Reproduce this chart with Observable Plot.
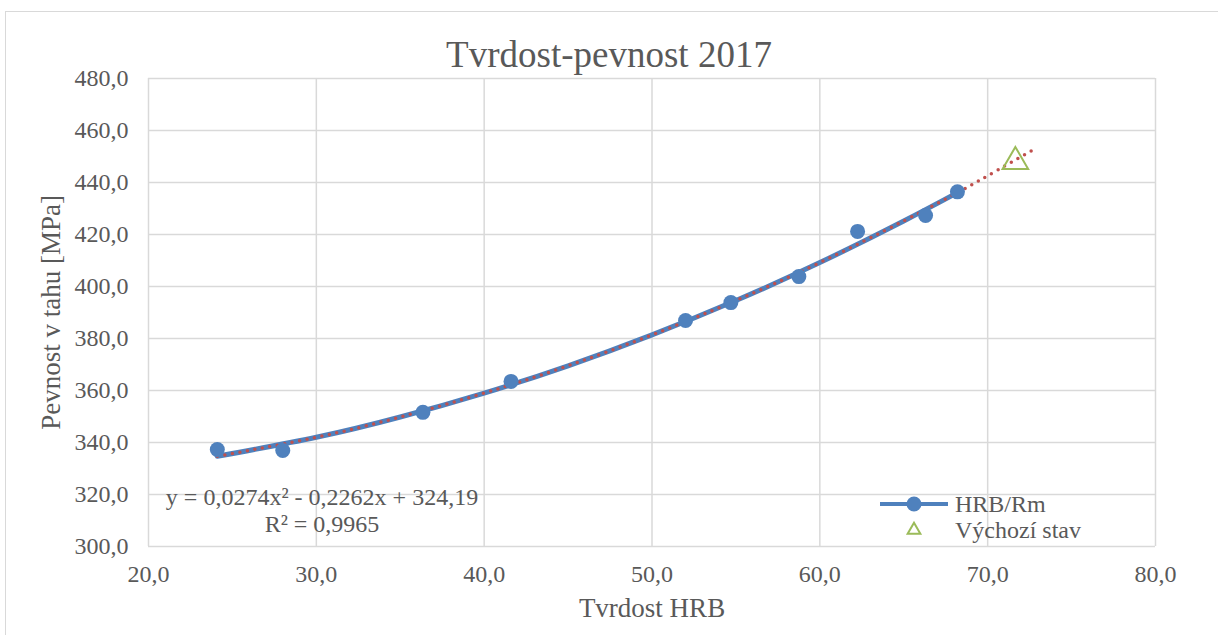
<!DOCTYPE html>
<html>
<head>
<meta charset="utf-8">
<script src="https://cdn.jsdelivr.net/npm/d3@7"></script>
<script src="https://cdn.jsdelivr.net/npm/@observablehq/plot@0.6"></script>
<style>
  html, body { margin: 0; padding: 0; background: #fff; }
  #wrap { position: relative; width: 1218px; height: 635px; overflow: hidden; font-family: "Liberation Serif", "Times New Roman", serif; color: #595959; }
  #border { position: absolute; left: 5px; top: 11px; width: 1300px; height: 700px; border: 1.5px solid #d9d9d9; box-sizing: border-box; }
  #title { position: absolute; left: 0; width: 1218px; top: 36px; line-height: 1; text-align: center; font-size: 37px; color: #595959; }
  #chart { position: absolute; left: 0; top: 0; }
  .eq { position: absolute; font-size: 24px; line-height: 1; color: #595959; white-space: nowrap; transform: translateX(-50%); }
  #legend { position: absolute; left: 876px; top: 490px; }
</style>
</head>
<body>
<div id="wrap">
  <div id="border"></div>
  <div id="chart"></div>
  <div id="title">Tvrdost-pevnost 2017</div>
  <div class="eq" style="left:322px; top:485px;">y = 0,0274x² - 0,2262x + 324,19</div>
  <div class="eq" style="left:322px; top:512px;">R² = 0,9965</div>
  <div id="legend"></div>
</div>
<script>
// Measured points: hardness HRB vs tensile strength Rm [MPa]
const hrb = [24.1, 28.0, 36.35, 41.6, 52.0, 54.7, 58.75, 62.25, 66.3, 68.2];
const rm  = [337.3, 336.9, 351.6, 363.5, 386.9, 393.8, 403.8, 421.2, 427.3, 436.4];

// Initial state (Výchozí stav)
const startHrb = [71.65];
const startRm  = [448.0];

// Trendline
const trendX = [24.1, 30, 35, 40, 45, 50, 55, 60, 65, 68.2, 70, 72.9];
const trendY = [334.7, 342.0, 349.8, 359.0, 369.5, 381.4, 394.6, 409.2, 425.2, 436.1, 442.6, 453.3];

const xTicks = [20, 30, 40, 50, 60, 70, 80];
const yTicks = [300, 320, 340, 360, 380, 400, 420, 440, 460, 480];

const xLabel = "Tvrdost HRB";
const yLabel = "Pevnost v tahu [MPa]";
const seriesNames = ["HRB/Rm", "Výchozí stav"];

const pts = hrb.map((x, i) => ({x, y: rm[i]}));
const start = startHrb.map((x, i) => ({x, y: startRm[i]}));
const trend = trendX.map((x, i) => ({x, y: trendY[i]}));
const lineTrend = trend.filter(d => d.x <= hrb[hrb.length - 1] + 0.01);

const fmt = d => d.toFixed(1).replace(".", ",");
const grid = "#d9d9d9";
const blue = "#4f81bd";
const red = "#c0504d";
const green = "#9bbb59";
const serif = "Liberation Serif";

const chart = Plot.plot({
  width: 1218,
  height: 635,
  marginLeft: 148,
  marginRight: 63,
  marginTop: 78,
  marginBottom: 89,
  style: { fontFamily: serif, color: "#595959", background: "transparent" },
  x: { domain: [20, 80] },
  y: { domain: [300, 480] },
  marks: [
    Plot.gridX(xTicks, { stroke: grid, strokeOpacity: 1, strokeWidth: 1.5 }),
    Plot.gridY(yTicks, { stroke: grid, strokeOpacity: 1, strokeWidth: 1.5 }),
    Plot.axisX(xTicks, { tickSize: 0, tickPadding: 18, tickFormat: fmt, fontSize: 24, fontFamily: serif, fill: "#595959",
      label: null }),
    Plot.axisY(yTicks, { tickSize: 0, tickPadding: 20, tickFormat: fmt, fontSize: 24, fontFamily: serif, fill: "#595959",
      label: null }),
    Plot.axisX({ ticks: [], tickSize: 0, label: xLabel, labelAnchor: "center", labelOffset: 70, labelArrow: "none",
      fontSize: 27, fontFamily: serif, fill: "#595959" }),
    Plot.axisY({ ticks: [], tickSize: 0, label: yLabel, labelAnchor: "center", labelOffset: 108, labelArrow: "none",
      fontSize: 27, fontFamily: serif, fill: "#595959" }),
    Plot.line(lineTrend, { x: "x", y: "y", stroke: blue, strokeWidth: 5, curve: "natural" }),
    Plot.line(trend, { x: "x", y: "y", stroke: red, strokeWidth: 3.5, strokeDasharray: "0 7.6", strokeLinecap: "round", curve: "natural" }),
    Plot.dot(pts, { x: "x", y: "y", r: 7.5, fill: blue, stroke: "none" }),
    Plot.dot(start, { x: "x", y: "y", symbol: "triangle", r: 9.5, fill: "none", stroke: green, strokeWidth: 2 })
  ]
});
document.getElementById("chart").appendChild(chart);

// Legend
const lg = d3.select("#legend").append("svg").attr("width", 260).attr("height", 60)
  .attr("font-family", serif);
lg.append("line").attr("x1", 4).attr("x2", 72).attr("y1", 14).attr("y2", 14).attr("stroke", blue).attr("stroke-width", 4);
lg.append("circle").attr("cx", 38).attr("cy", 14).attr("r", 7.5).attr("fill", blue);
lg.append("text").attr("x", 79).attr("y", 22).attr("font-size", 24).attr("fill", "#595959").text(seriesNames[0]);
lg.append("path").attr("d", d3.symbol(d3.symbolTriangle, 70)()).attr("transform", "translate(38,40)")
  .attr("fill", "none").attr("stroke", green).attr("stroke-width", 2);
lg.append("text").attr("x", 79).attr("y", 48).attr("font-size", 24).attr("fill", "#595959").text(seriesNames[1]);
</script>
</body>
</html>
